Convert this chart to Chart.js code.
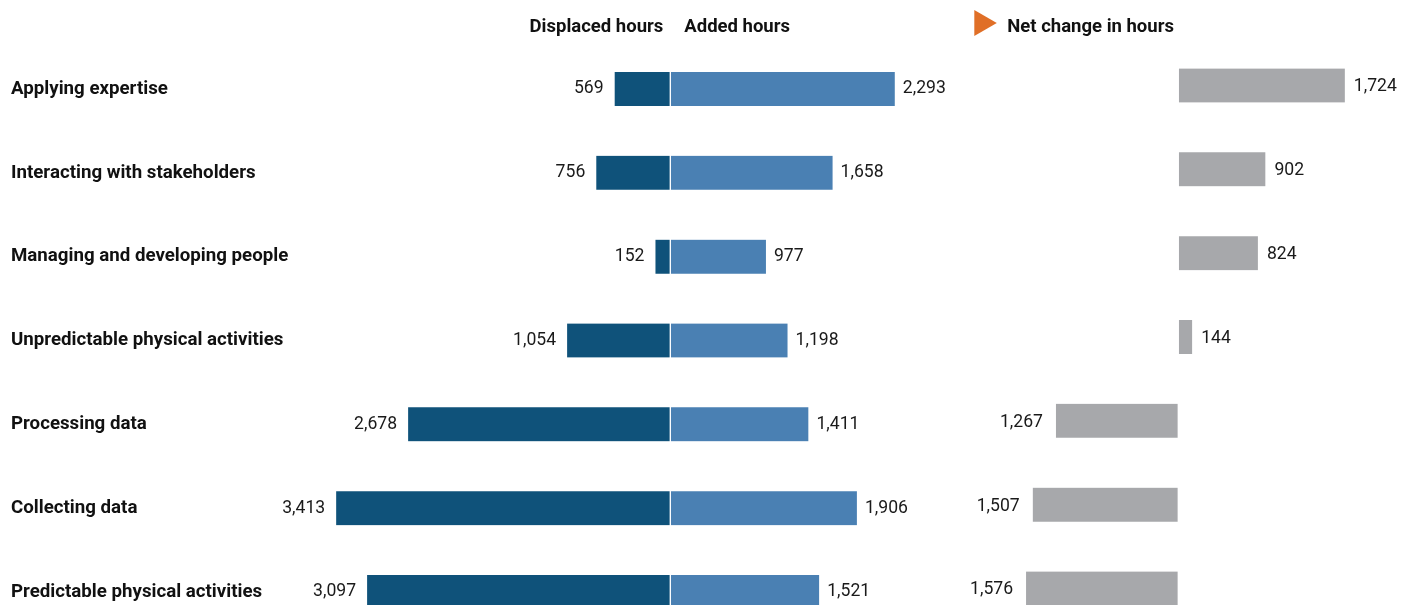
<!DOCTYPE html>
<html>
<head>
<meta charset="utf-8">
<script src="https://cdn.jsdelivr.net/npm/chart.js@4.4.1/dist/chart.umd.min.js"></script>
<style>
  html, body { margin: 0; padding: 0; background: #fff; overflow: hidden; }
  #wrap { width: 1411px; height: 605px; position: relative; }
</style>
</head>
<body>
<div id="wrap"><canvas id="chart"></canvas></div>
<script>
// Data
const categories = [
    'Applying expertise',
    'Interacting with stakeholders',
    'Managing and developing people',
    'Unpredictable physical activities',
    'Processing data',
    'Collecting data',
    'Predictable physical activities'
];
const displacedHours = [569, 756, 152, 1054, 2678, 3413, 3097];
const addedHours = [2293, 1658, 977, 1198, 1411, 1906, 1521];
const netChange = [1724, 902, 824, 144, -1267, -1507, -1576];

// Colours
const DISPLACED = '#0f527a';
const ADDED = '#4a80b3';
const NET = '#a7a8ab';
const ORANGE = '#e06f27';

const FONT = 'Roboto';
const NET_SHIFT = -3.5;    // net panel sits a little higher than the butterfly rows

function fmt(v) {
    return Math.abs(v).toLocaleString('en-US');
}

// value labels next to each bar
const valueLabels = {
    id: 'valueLabels',
    afterDatasetsDraw(chart) {
        const ctx = chart.ctx;
        ctx.save();
        ctx.font = '17.6px ' + FONT;
        ctx.fillStyle = '#1a1a1a';
        ctx.textBaseline = 'middle';
        chart.data.datasets.forEach((ds, i) => {
            const isNet = ds.xAxisID === 'x2';
            const dy = isNet ? NET_SHIFT + 1.5 : 0;
            chart.getDatasetMeta(i).data.forEach((bar, j) => {
                const v = ds.data[j];
                if (v < 0) {
                    ctx.textAlign = 'right';
                    ctx.fillText(fmt(v), bar.x - (isNet ? 13 : 11), bar.y + dy);
                } else {
                    ctx.textAlign = 'left';
                    ctx.fillText(fmt(v), bar.x + (isNet ? 9 : 8), bar.y + dy);
                }
            });
        });
        ctx.restore();
    }
};

// shift the net change bars up a touch
const netShift = {
    id: 'netShift',
    beforeDatasetDraw(chart, args) {
        if (args.index === 2) {
            chart.ctx.save();
            chart.ctx.translate(0, NET_SHIFT);
        }
    },
    afterDatasetDraw(chart, args) {
        if (args.index === 2) chart.ctx.restore();
    }
};

// column headers
const headers = {
    id: 'headers',
    afterDraw(chart) {
        const ctx = chart.ctx;
        const x0 = chart.scales.x.getPixelForValue(0);
        const n0 = chart.scales.x2.getPixelForValue(0);
        ctx.save();
        ctx.font = 'bold 18.5px ' + FONT;
        ctx.fillStyle = '#111';
        ctx.textBaseline = 'alphabetic';
        ctx.textAlign = 'right';
        ctx.fillText('Displaced hours', x0 - 7, 32);
        ctx.textAlign = 'left';
        ctx.fillText('Added hours', x0 + 14, 32);
        ctx.fillText('Net change in hours', n0 - 171, 32);
        // orange marker
        ctx.fillStyle = ORANGE;
        ctx.beginPath();
        ctx.moveTo(n0 - 204, 10);
        ctx.lineTo(n0 - 181.5, 23);
        ctx.lineTo(n0 - 204, 36);
        ctx.closePath();
        ctx.fill();
        ctx.restore();
    }
};

const LEFT = 300;          // chart area left edge
const ZERO = 670.3;        // butterfly zero
const NET_ZERO = 1178.3;   // net panel zero
const K = 0.0979;          // px per hour, butterfly
const K2 = 0.0966;         // px per hour, net

const ctx = document.getElementById('chart').getContext('2d');
new Chart(ctx, {
    type: 'bar',
    data: {
        labels: categories,
        datasets: [{
            label: 'Displaced hours',
            data: displacedHours.map(v => -v),
            backgroundColor: DISPLACED,
            xAxisID: 'x'
        }, {
            label: 'Added hours',
            data: addedHours,
            backgroundColor: ADDED,
            xAxisID: 'x'
        }, {
            label: 'Net change in hours',
            data: netChange,
            backgroundColor: NET,
            xAxisID: 'x2'
        }]
    },
    options: {
        indexAxis: 'y',
        responsive: true,
        maintainAspectRatio: false,
        animation: false,
        layout: { padding: { left: 11, top: 89, bottom: 13, right: 0 } },
        datasets: {
            bar: {
                grouped: false,
                barThickness: 34,
                borderColor: '#ffffff',
                // thin white edge on the zero side only
                borderWidth: c => c.raw < 0
                    ? { left: 0, right: 1, top: 0, bottom: 0 }
                    : { left: 1, right: 0, top: 0, bottom: 0 },
                borderSkipped: false,
                clip: false
            }
        },
        plugins: {
            legend: { display: false },
            tooltip: { enabled: false }
        },
        scales: {
            y: {
                offset: false,
                grid: { display: false },
                border: { display: false },
                afterFit(scale) { scale.width = LEFT - 11; },
                ticks: {
                    crossAlign: 'far',
                    padding: 0,
                    color: '#111',
                    font: { family: FONT, size: 18.7, weight: 'bold' }
                }
            },
            x: {
                display: false,
                min: -(ZERO - LEFT) / K,
                max: (1411 - ZERO) / K
            },
            x2: {
                display: false,
                min: -(NET_ZERO - LEFT) / K2,
                max: (1411 - NET_ZERO) / K2
            }
        }
    },
    plugins: [netShift, valueLabels, headers]
});
</script>
</body>
</html>
